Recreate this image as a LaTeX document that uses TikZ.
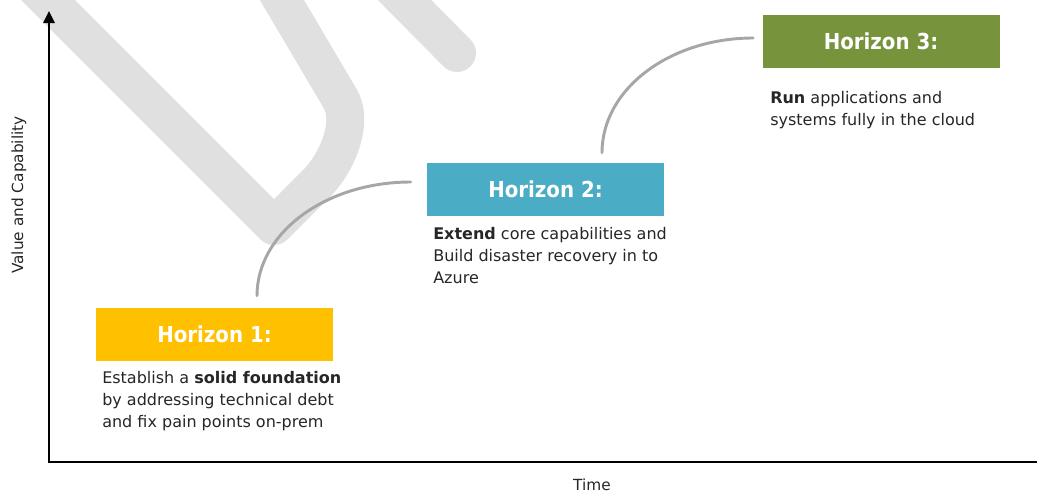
\documentclass[tikz,border=0pt]{standalone}
\usepackage{fontspec}
\setmainfont{DejaVu Sans}
\newfontfamily\condfont{DejaVu Sans Condensed}
\usetikzlibrary{arrows.meta}

\definecolor{hyellow}{HTML}{FFC000}
\definecolor{hblue}{HTML}{4BACC6}
\definecolor{hgreen}{HTML}{77933C}
\definecolor{wmark}{HTML}{E0E0E0}
\definecolor{connclr}{HTML}{A6A6A6}
\definecolor{bodyclr}{HTML}{262626}

\tikzset{
  hbox/.style={minimum width=177.75pt, minimum height=39.75pt, inner sep=0pt,
    text=white, font=\condfont\fontsize{16.5}{20}\selectfont\bfseries},
  body/.style={anchor=base west, align=left, inner sep=0pt, text=bodyclr,
    font=\fontsize{12}{16.5}\selectfont},
  axis/.style={line width=1.6pt, black},
  axislabel/.style={text=bodyclr, font=\fontsize{11.5}{13}\selectfont, inner sep=0pt},
  conn/.style={line width=2.2pt, connclr, line cap=round},
  wm/.style={line width=28.5pt, wmark, line join=round}
}

\begin{document}
\begin{tikzpicture}[x=0.75pt, y=-0.75pt]
  \useasboundingbox (0,0) rectangle (1037,493);

  % background watermark strokes
  \draw[wm] (-20,-68) -- (274,226) -- (316,184)
     .. controls (338,162) and (353,123) .. (341,100) -- (263,-32);
  \draw[wm, line cap=round] (360,-45) -- (457,53);

  % axes
  \coordinate (o) at (49,462);
  \coordinate (ytop) at (49,11);
  \coordinate (xend) at (1049,462);
  \draw[axis, -{Triangle[length=9pt, width=8.5pt]}] (o) -- (ytop);
  \draw[axis, -{Triangle[length=9pt, width=8.5pt]}] ([xshift=-0.8pt]o) -- (xend);
  \node[axislabel, rotate=90] (ylab) at (19,195) {Value and Capability};
  \node[axislabel, anchor=base] (xlab) at (592,490) {Time};

  % horizon boxes
  \node[hbox, fill=hyellow] (h1) at (214.5,334.5) {Horizon 1:};
  \node[hbox, fill=hblue]   (h2) at (545.5,189.5) {Horizon 2:};
  \node[hbox, fill=hgreen]  (h3) at (881,41.5)    {Horizon 3:};

  % descriptions (anchored at the baseline of the last line)
  \node[body] (t1) at (102,427) {Establish a \textbf{solid foundation}\\
    by addressing technical debt\\and fix pain points on-prem};
  \node[body] (t2) at (433,283) {\textbf{Extend} core capabilities and\\
    Build disaster recovery in to\\Azure};
  \node[body] (t3) at (770,125) {\textbf{Run} applications and\\
    systems fully in the cloud};

  % connectors between horizons
  \draw[conn] ([shift={(42.5,-12)}]h1.north) .. controls +(0,-63) and +(-85,0)
     .. ([shift={(-16,-7.5)}]h2.west);
  \draw[conn] ([shift={(56.5,-10)}]h2.north) .. controls +(0,-64) and +(-83,0)
     .. ([shift={(-9,-3.5)}]h3.west);
\end{tikzpicture}
\end{document}
